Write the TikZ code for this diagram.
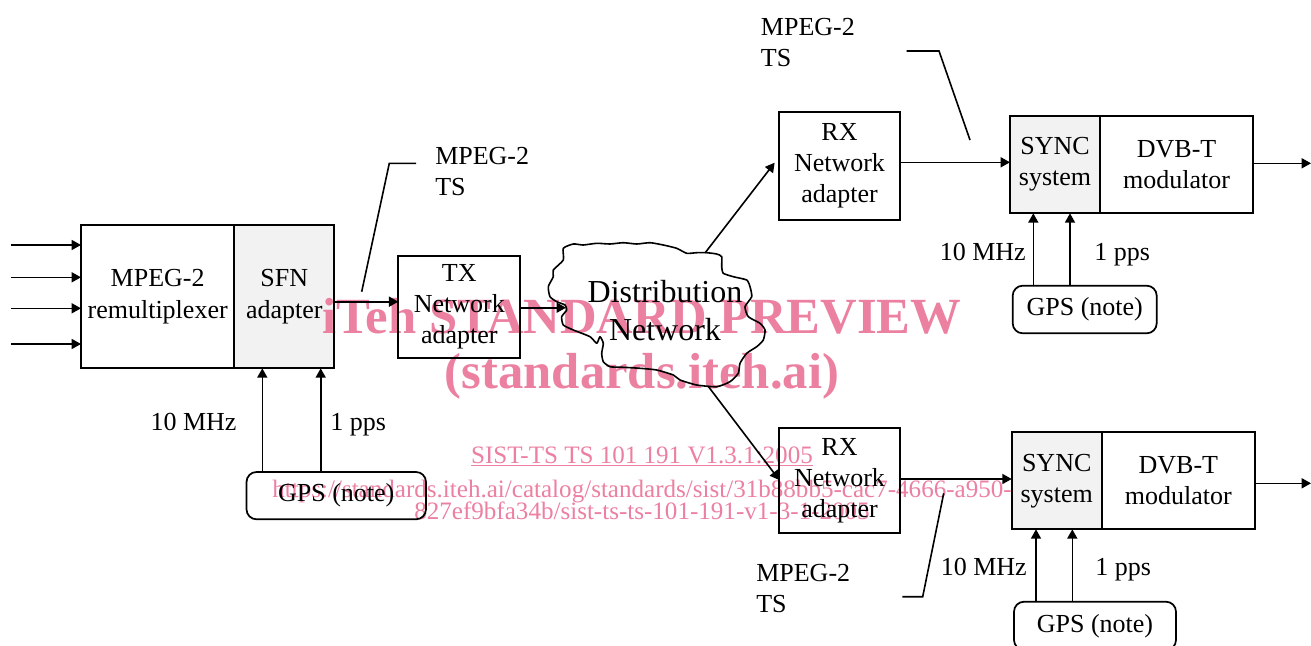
\documentclass[tikz,border=0pt]{standalone}
\usepackage{fontspec}
\setmainfont{Liberation Serif}
\usetikzlibrary{arrows.meta,backgrounds}
\definecolor{wmpink}{RGB}{236,128,160}
\definecolor{greyfill}{RGB}{242,242,242}
\newcommand{\dfont}{\fontsize{19.5}{23.3}\selectfont}
\newcommand{\cfont}{\fontsize{24}{28.5}\selectfont}
\newcommand{\wfont}{\fontsize{38}{40}\selectfont\bfseries}
\newcommand{\sfont}{\fontsize{18.8}{20}\selectfont}
\begin{document}
\begin{tikzpicture}[x=0.75pt,y=-0.75pt,
  blk/.style={draw, line width=1.3pt, inner sep=0pt, outer sep=0pt, align=center, font=\dfont},
  gpsbox/.style={blk, rounded corners=7.5pt},
  arr/.style={line width=1.2pt, -{Triangle[length=7pt,width=7.5pt]}},
  ln/.style={line width=1.2pt},
  lbl/.style={font=\dfont, inner sep=0pt},
  wm/.style={text=wmpink, inner sep=0pt}]
\useasboundingbox (0,0) rectangle (1311,646);

% blocks
\node[blk, minimum width=115pt, minimum height=107.5pt] (mux) at (157.65,296.65) {MPEG-2\\remultiplexer};
\node[blk, minimum width=75pt, minimum height=107.5pt] (sfn) at (284.3,296.65) {SFN\\adapter};
\node[gpsbox, minimum width=134.6pt, minimum height=35.5pt] (gps1) at (336.25,495.65) {GPS (note)};
\node[blk, minimum width=91.5pt, minimum height=76.5pt] (tx) at (459.3,306.7) {TX\\Network\\adapter};

\node[blk, minimum width=90.3pt, minimum height=80.8pt] (rx1) at (839.5,166.15) {RX\\Network\\adapter};
\node[blk, minimum width=67.5pt, minimum height=73.2pt] (sync1) at (1055,164.5) {SYNC\\system};
\node[blk, minimum width=115pt, minimum height=73.2pt] (dvb1) at (1176.65,164.5) {DVB-T\\modulator};
\node[gpsbox, minimum width=108pt, minimum height=35.7pt] (gps2) at (1084.7,309.5) {GPS (note)};

\node[blk, minimum width=90.3pt, minimum height=79.2pt] (rx2) at (839.5,480.5) {RX\\Network\\adapter};
\node[blk, minimum width=67.5pt, minimum height=72.75pt] (sync2) at (1056.7,480.8) {SYNC\\system};
\node[blk, minimum width=115pt, minimum height=72.75pt] (dvb2) at (1178.35,480.8) {DVB-T\\modulator};
\node[gpsbox, minimum width=121.5pt, minimum height=36.2pt] (gps3) at (1095,625.85) {GPS (note)};

% cloud
\draw[ln, line join=round] plot[smooth cycle, tension=0.35] coordinates {
 (563.3,248.3) (573.3,244) (583.3,245) (596.7,243.3) (610,244) (623.3,242.7)
 (636.7,244) (650,242.7) (663.3,245) (676.7,248.3) (686.7,253.3) (696.7,252.7)
 (706.7,252.7) (716.7,254) (721.7,256.7) (721.7,266.7) (723.3,273.3) (733.3,276.7)
 (746.7,280) (750,286.7) (751.7,296.7) (745,306.7) (748.3,316.7) (760,323.3)
 (765,330) (763.3,340) (756.7,346.7) (746.7,353.3) (740,363.3) (738.3,373.3)
 (730,381.7) (716.7,386.7) (696.7,385) (680,380) (673.3,375) (656.7,370)
 (640,368.3) (623.3,367.3) (610,366.7) (603.3,361.7) (601.7,353.3) (603.3,343.3)
 (600,336.7) (596.7,343.3) (590,336.7) (573.3,330) (563.3,325) (561.7,316.7)
 (566.7,310) (565,305) (556.7,301.7) (550,296.7) (548.3,286.7) (553.3,276.7)
 (553.3,270) (563.3,260)};
\node[inner sep=0pt, align=center, font=\cfont] (dist) at (665,311) {Distribution\\Network};
\coordinate (cin) at (566,307.7);
\coordinate (cne) at (705,253);
\coordinate (cse) at (708,386);

% background: shading and watermark
\begin{scope}[on background layer]
\fill[greyfill] (sfn.south west) rectangle (sfn.north east);
\fill[greyfill] (sync1.south west) rectangle (sync1.north east);
\fill[greyfill] (sync2.south west) rectangle (sync2.north east);
\node[wm, font=\wfont, anchor=base] (wm1) at (642,333.3) {iTeh STANDARD PREVIEW};
\node[wm, font=\wfont, anchor=base] (wm2) at (642,388.3) {(standards.iteh.ai)};
\node[wm, font=\sfont, anchor=base] (wm3) at (642,463.3) {\underline{SIST-TS TS 101 191 V1.3.1:2005}};
\node[wm, font=\sfont, anchor=base] (wm4) at (642,497.7) {https://standards.iteh.ai/catalog/standards/sist/31b88bb5-cac7-4666-a950-};
\node[wm, font=\sfont, anchor=base] (wm5) at (642,519) {827ef9bfa34b/sist-ts-ts-101-191-v1-3-1-2005};
\end{scope}

% labels
\node[lbl, anchor=base east] (l10a) at (236.7,430) {10 MHz};
\node[lbl, anchor=base west] (l1a) at (330,430) {1 pps};
\node[lbl, anchor=base east] (l10b) at (1026,260) {10 MHz};
\node[lbl, anchor=base west] (l1b) at (1094,260) {1 pps};
\node[lbl, anchor=base east] (l10c) at (1027,575) {10 MHz};
\node[lbl, anchor=base west] (l1c) at (1095,575) {1 pps};
\node[lbl, align=left, anchor=north west] (ts1) at (435,146.7) {MPEG-2\\TS};
\node[lbl, align=left, anchor=north west] (ts2) at (760.7,18.4) {MPEG-2\\TS};
\node[lbl, align=left, anchor=north west] (ts3) at (756,564.1) {MPEG-2\\TS};

% inputs
\foreach \y [count=\i] in {245,277.3,308.3,344} {
  \coordinate (in\i) at (11,\y);
  \draw[arr] (in\i) -- (in\i -| mux.west);
}
% connectors
\draw[arr] (262.3,0 |- gps1.north) -- (262.3,0 |- sfn.south);
\draw[arr] (320.7,0 |- gps1.north) -- (320.7,0 |- sfn.south);
\draw[arr] (sfn.east |- 0,301.7) -- (tx.west |- 0,301.7);
\draw[arr] (tx.east |- cin) -- (cin);
\draw[arr] (cne) -- ([xshift=-3.5pt]rx1.west |- 0,162.7);
\draw[arr] (cse) -- (rx2.west |- 0,480);
\draw[arr] (rx1.east |- 0,162.3) -- (sync1.west |- 0,162.3);
\draw[arr] (rx2.east |- 0,479) -- (sync2.west |- 0,479);
\coordinate (o1) at (1311,163.3);
\coordinate (o2) at (1311,483.3);
\draw[arr] (dvb1.east |- o1) -- (o1);
\draw[arr] (dvb2.east |- o2) -- (o2);
\draw[arr] (1033.3,0 |- gps2.north) -- (1033.3,0 |- sync1.south);
\draw[arr] (1070,0 |- gps2.north) -- (1070,0 |- sync1.south);
\draw[arr] (1036,0 |- gps3.north) -- (1036,0 |- sync2.south);
\draw[arr] (1072.3,0 |- gps3.north) -- (1072.3,0 |- sync2.south);

% callouts
\coordinate (k1a) at (361.7,291.7);
\coordinate (k1b) at (389.3,163.3);
\coordinate (k1c) at (416,163.3);
\coordinate (k2a) at (906.7,51);
\coordinate (k2b) at (939,51);
\coordinate (k2c) at (970,140);
\coordinate (k3a) at (943.7,493.3);
\coordinate (k3b) at (922.7,596.7);
\coordinate (k3c) at (902.3,596.7);
\draw[ln] (k1a) -- (k1b) -- (k1c);
\draw[ln] (k2a) -- (k2b) -- (k2c);
\draw[ln] (k3a) -- (k3b) -- (k3c);
\end{tikzpicture}
\end{document}
